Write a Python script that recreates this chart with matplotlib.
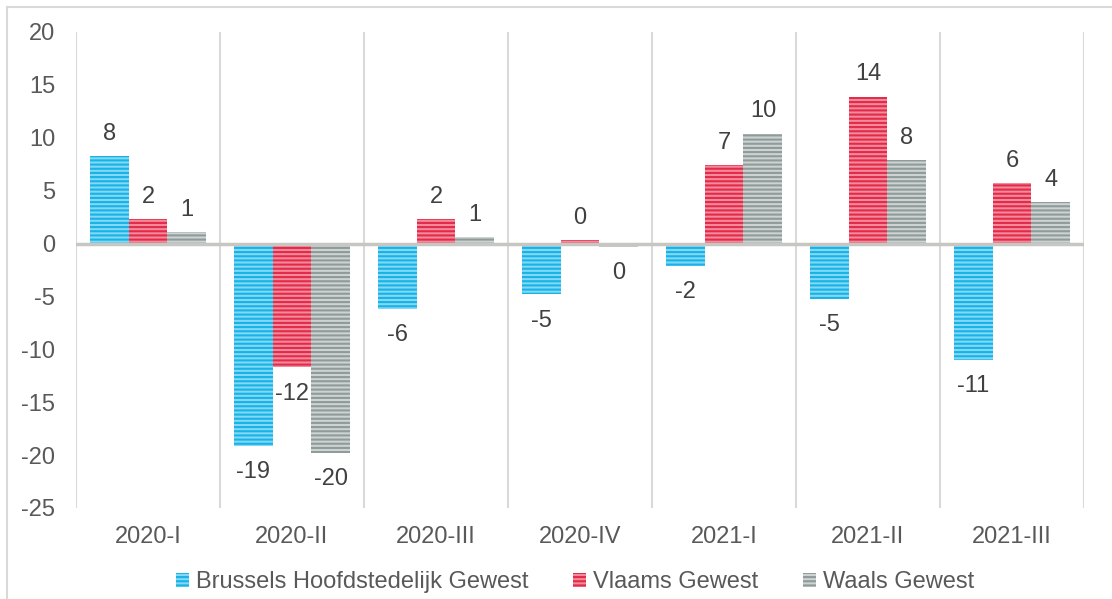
"""Quarterly change per region, clustered bar chart with striped fills."""

import matplotlib

matplotlib.use("Agg")
import matplotlib.pyplot as plt
import numpy as np
from matplotlib.patches import Patch, Rectangle


QUARTERS = ["2020-I", "2020-II", "2020-III", "2020-IV", "2021-I", "2021-II", "2021-III"]
BRUSSELS = [8.3, -19.1, -6.2, -4.8, -2.1, -5.2, -11.0]
VLAAMS = [2.3, -11.7, 2.3, 0.3, 7.4, 13.9, 5.7]
WAALS = [1.1, -19.8, 0.6, -0.3, 10.4, 7.9, 3.9]

SERIES = [
    ("Brussels Hoofdstedelijk Gewest", BRUSSELS, "#82d8f5", "#17b3e6"),
    ("Vlaams Gewest", VLAAMS, "#f28a9c", "#e32a48"),
    ("Waals Gewest", WAALS, "#ccd3d2", "#8f9b99"),
]

TEXT = "#595959"
LABEL = "#404040"
GRID = "#d9d9d9"
FS = 17

plt.rcParams["font.family"] = ["Liberation Sans", "DejaVu Sans"]
plt.rcParams["axes.unicode_minus"] = False
plt.rcParams["hatch.linewidth"] = 1.5

fig = plt.figure(figsize=(11.12, 5.99), dpi=100)
ax = fig.add_axes([76 / 1112, 1 - 508 / 599, 1008 / 1112, 476 / 599])

x = np.arange(len(QUARTERS))
width = 0.27
handles = []
for i, (name, values, face, stripe) in enumerate(SERIES):
    pos = x + (i - 1) * width
    ax.bar(pos, values, width, color=face, edgecolor=stripe, linewidth=0,
           hatch="----", zorder=3)
    for px, v in zip(pos, values):
        txt = str(int(round(v)))
        if v >= 0:
            ax.annotate(txt, (px, v), xytext=(0, 8), textcoords="offset points",
                        ha="center", va="bottom", fontsize=FS, color=LABEL)
        else:
            ax.annotate(txt, (px, v), xytext=(0, -11), textcoords="offset points",
                        ha="center", va="top", fontsize=FS, color=LABEL)
    handles.append(Patch(facecolor=face, edgecolor=stripe, linewidth=0, hatch="----", label=name))

ax.set_xlim(-0.5, len(QUARTERS) - 0.5)
ax.set_ylim(-25, 20)
ax.set_yticks(range(-25, 21, 5))
ax.set_xticks(x)
ax.set_xticklabels(QUARTERS)

# category separators
for b in np.arange(-0.5, len(QUARTERS), 1.0):
    ax.axvline(b, color=GRID, linewidth=1.5, zorder=1)
ax.axhline(0, color="#c6c6c2", linewidth=2.5, zorder=4)

for spine in ax.spines.values():
    spine.set_visible(False)
ax.tick_params(axis="both", length=0, labelsize=FS, colors=TEXT)
ax.tick_params(axis="y", pad=15)
ax.tick_params(axis="x", pad=13)

fig.legend(handles=handles, loc="center", bbox_to_anchor=(575 / 1112, 1 - 582 / 599),
           ncol=3, frameon=False, fontsize=FS, handlelength=0.55, handleheight=0.55,
           handletextpad=0.3, columnspacing=1.9, labelcolor=TEXT)

fig.patches.append(Rectangle((7 / 1112, -0.1), 1.2, 1.1 - 7 / 599, transform=fig.transFigure,
                             fill=False, edgecolor=GRID, linewidth=1.5))

fig.savefig("out.png", dpi=100)
